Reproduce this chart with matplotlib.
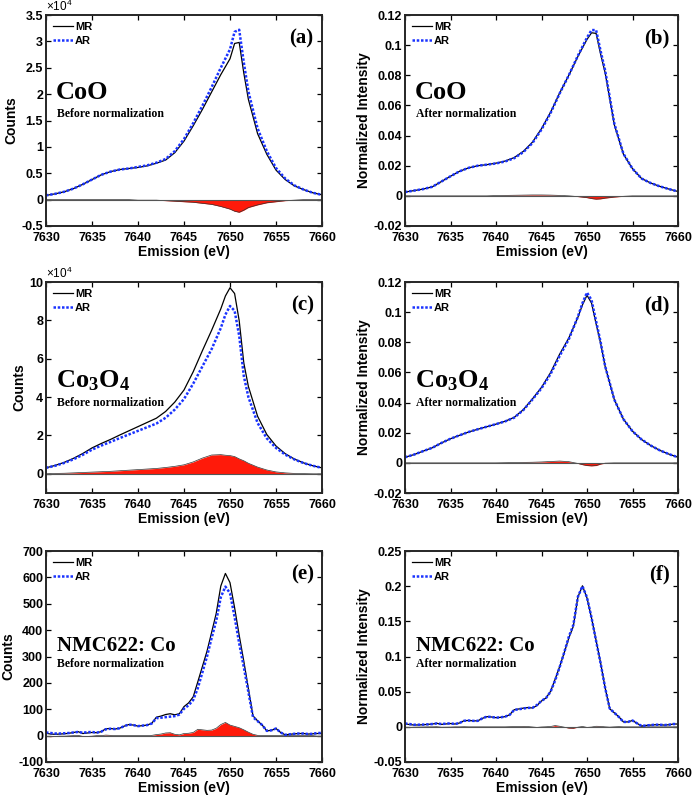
import matplotlib
matplotlib.use('Agg')
import matplotlib.pyplot as plt
import numpy as np
from matplotlib.ticker import FuncFormatter

plt.rcParams['font.family'] = ['Liberation Sans', 'DejaVu Sans']
plt.rcParams['font.weight'] = 'bold'
plt.rcParams['axes.unicode_minus'] = False
plt.rcParams['mathtext.default'] = 'regular'

# ---- data (MR = AR + diff) ----
# CoO
x_a = [7630, 7631, 7632, 7633, 7634, 7635, 7636, 7637, 7638, 7639, 7640, 7641, 7642, 7643, 7644, 7645,
       7646, 7647, 7648, 7649, 7650, 7650.5, 7651, 7651.5, 7652, 7653, 7654, 7655, 7656, 7657, 7658, 7659, 7660]
ar_a = [0.08, 0.11, 0.15, 0.21, 0.29, 0.38, 0.47, 0.53, 0.57, 0.59, 0.62, 0.65, 0.70, 0.77, 0.92, 1.15,
        1.45, 1.78, 2.13, 2.50, 2.85, 3.18, 3.22, 2.60, 2.05, 1.35, 0.92, 0.60, 0.40, 0.27, 0.19, 0.13, 0.09]
diff_a = [0, 0, 0, 0, 0, 0, 0, 0, 0, 0, -0.01, -0.01, -0.01, -0.02, -0.03, -0.04,
          -0.05, -0.07, -0.09, -0.13, -0.18, -0.22, -0.24, -0.20, -0.15, -0.10, -0.06, -0.04, -0.02, -0.01, 0, 0, 0]
ar_b = [0.0025, 0.0035, 0.0045, 0.006, 0.0095, 0.013, 0.0163, 0.0186, 0.020, 0.0207, 0.0215, 0.0228, 0.025, 0.029,
        0.035, 0.044, 0.055, 0.068, 0.080, 0.093, 0.105, 0.110, 0.110, 0.096, 0.083, 0.048, 0.028, 0.018, 0.0115,
        0.0085, 0.0063, 0.0045, 0.0029]
diff_b = [0, 0, 0, 0, 0, 0, 0, 0, 0, 0, 0.0002, 0.0003, 0.0004, 0.0005, 0.0006, 0.0006,
          0.0005, 0.0003, 0, -0.0005, -0.0012, -0.0018, -0.0022, -0.002, -0.0015, -0.0008, -0.0003, 0, 0, 0, 0, 0, 0]

# Co3O4
x_c = [7630, 7631, 7632, 7633, 7634, 7635, 7636, 7637, 7638, 7639, 7640, 7641, 7642, 7643, 7644, 7645,
       7646, 7647, 7648, 7649, 7649.5, 7650, 7650.5, 7651, 7651.5, 7652, 7653, 7654, 7655, 7656, 7657,
       7658, 7659, 7660]
ar_c = [0.31, 0.42, 0.57, 0.76, 0.99, 1.26, 1.47, 1.66, 1.86, 2.05, 2.24, 2.43, 2.62, 2.92, 3.35, 3.9,
        4.7, 5.6, 6.5, 7.6, 8.3, 8.75, 8.5, 7.2, 5.1, 4.0, 2.65, 1.85, 1.35, 1.0, 0.75,
        0.56, 0.42, 0.31]
diff_c = [0, 0.02, 0.03, 0.05, 0.07, 0.09, 0.11, 0.13, 0.16, 0.19, 0.22, 0.25, 0.28, 0.33, 0.39, 0.47,
          0.62, 0.82, 0.98, 1.0, 0.97, 0.95, 0.9, 0.78, 0.68, 0.55, 0.35, 0.2, 0.1, 0.05, 0.02,
          0.01, 0, 0]
ar_d = [0.0037, 0.0055, 0.0078, 0.010, 0.0132, 0.016, 0.0183, 0.0205, 0.0223, 0.024, 0.0257, 0.0275, 0.030,
        0.035, 0.042, 0.0495, 0.059, 0.071, 0.082, 0.097, 0.106, 0.113, 0.108, 0.094, 0.080, 0.064, 0.042,
        0.029, 0.021, 0.0155, 0.0115, 0.0083, 0.0058, 0.0037]
diff_d = [0, 0, 0, 0, 0, 0, 0, 0, 0, 0, 0, 0.0001, 0.0002, 0.0003, 0.0004, 0.0006,
          0.0009, 0.0012, 0.0008, -0.0004, -0.0012, -0.0018, -0.002, -0.0018, -0.0008, -0.0002, 0,
          0, 0, 0, 0, 0, 0, 0]

# NMC622: Co (0.5 eV sampling)
x_e = np.arange(7630, 7660.5, 0.5)
ar_e = [12, 10, 8, 8, 9, 10, 12, 14, 11, 13,
        14, 11, 15, 24, 26, 25, 28, 36, 42, 40,
        36, 38, 40, 46, 66, 68, 70, 72, 74, 80,
        102, 115, 135, 180, 240, 300, 370, 435, 525, 565,
        540, 450, 350, 260, 165, 70, 55, 40, 18, 20,
        27, 12, 3, 5, 7, 8, 8, 6, 7, 10, 10]
diff_e = [-3, -4, -3, -2, -2, -1, 0, 1, -3, -3,
          -2, 0, 0, 2, 1, 0, 0, 0, 0, 0,
          0, 0, 0, 1, 4, 6, 10, 11, 5, 3,
          8, 9, 12, 24, 22, 20, 21, 28, 42, 50,
          40, 35, 30, 22, 13, 5, 1, 0, 0, 0,
          0, 0, 0, 0, 0, 0, 0, 0, 0, -2, -2]
ar_f = [0.0048, 0.004, 0.003, 0.003, 0.0032, 0.0035, 0.004, 0.0048, 0.004, 0.0045,
        0.005, 0.004, 0.0055, 0.0086, 0.009, 0.0085, 0.0085, 0.012, 0.0145, 0.014,
        0.013, 0.0135, 0.0145, 0.017, 0.024, 0.025, 0.026, 0.027, 0.027, 0.031,
        0.037, 0.041, 0.05, 0.066, 0.085, 0.106, 0.128, 0.145, 0.185, 0.2,
        0.184, 0.155, 0.122, 0.09, 0.055, 0.026, 0.02, 0.014, 0.007, 0.007,
        0.009, 0.005, 0.0012, 0.002, 0.0025, 0.003, 0.003, 0.0025, 0.003, 0.004, 0.004]
diff_f = [-0.0006, -0.0008, -0.0004, -0.0003, -0.0002, 0, 0, 0.0002, -0.0005, -0.0004,
          -0.0003, 0, 0, 0.0002, 0, 0, 0, 0, 0, 0,
          0, 0, 0, 0.0002, 0.0003, 0.0004, 0.0006, 0.0004, -0.0002, -0.0008,
          -0.0002, 0.0001, 0.0005, 0.0018, 0.0008, -0.0005, -0.0018, -0.002, -0.0005, 0.0005,
          -0.0008, -0.0003, 0.0008, 0.0006, 0, -0.0004, 0, 0.0003, 0, 0,
          0, 0, 0, 0, 0, 0, 0, 0, 0, 0, 0]

panels = [
    # x, ar, diff, ylim, yticks, ylabel, sample, note, letter, x10
    (x_a, ar_a, diff_a, (-0.5, 3.5), np.arange(-0.5, 3.6, 0.5), 'Counts', 'CoO', 'Before normalization', '(a)', True),
    (x_a, ar_b, diff_b, (-0.02, 0.12), np.arange(-0.02, 0.121, 0.02), 'Normalized Intensity', 'CoO', 'After normalization', '(b)', False),
    (x_c, ar_c, diff_c, (-1, 10), np.arange(0, 10.1, 2), 'Counts', 'Co$_3$O$_4$', 'Before normalization', '(c)', True),
    (x_c, ar_d, diff_d, (-0.02, 0.12), np.arange(-0.02, 0.121, 0.02), 'Normalized Intensity', 'Co$_3$O$_4$', 'After normalization', '(d)', False),
    (x_e, ar_e, diff_e, (-100, 700), np.arange(-100, 701, 100), 'Counts', 'NMC622: Co', 'Before normalization', '(e)', False),
    (x_e, ar_f, diff_f, (-0.05, 0.25), np.arange(-0.05, 0.251, 0.05), 'Normalized Intensity', 'NMC622: Co', 'After normalization', '(f)', False),
]

W, H = 692, 797
fig = plt.figure(figsize=(W / 100, H / 100), dpi=100)

col_left = [46, 405]
col_width = [276, 273]
row_top = [15, 282, 551]
row_h = 211

fmt = FuncFormatter(lambda v, p: '%g' % round(v, 6))

for i, (x, ar, d, ylim, yt, ylab, sample, note, letter, x10) in enumerate(panels):
    r, c = i // 2, i % 2
    ax = fig.add_axes([col_left[c] / W, 1 - (row_top[r] + row_h) / H, col_width[c] / W, row_h / H])
    x = np.asarray(x, dtype=float)
    ar = np.asarray(ar, dtype=float)
    d = np.asarray(d, dtype=float)
    mr = ar + d

    ax.fill_between(x, d, 0, color='#ff1a0a', lw=0)
    ax.plot(x, d, color='#333333', lw=0.5)
    ax.axhline(0, color='#555555', lw=0.8)
    ax.plot(x, mr, color='black', lw=0.9, label='MR')
    ax.plot(x, ar, color='#1a33ff', lw=1.8, ls=(0, (1, 0.7)), label='AR')

    ax.set_xlim(7630, 7660)
    ax.set_ylim(*ylim)
    ax.set_xticks(np.arange(7630, 7661, 5))
    ax.set_yticks(yt)
    ax.yaxis.set_major_formatter(fmt)
    ax.tick_params(direction='in', top=True, right=True, length=3.5, width=0.9, labelsize=9)
    ax.tick_params(axis='x', pad=4)
    ax.tick_params(axis='y', pad=2)
    for lab in ax.get_xticklabels() + ax.get_yticklabels():
        lab.set_fontweight('bold')
    for s in ax.spines.values():
        s.set_linewidth(1.4)
        s.set_color('#262626')
    ax.set_xlabel('Emission (eV)', fontsize=10, fontweight='bold', labelpad=1)
    ax.set_ylabel(ylab, fontsize=10, fontweight='bold', labelpad=2)

    ax.legend(loc='upper left', frameon=False, prop={'weight': 'bold', 'size': 8},
              handlelength=1.8, handletextpad=0.2, borderaxespad=0.3, labelspacing=0.35,
              borderpad=0.3)

    if x10:
        ax.text(0.0, 1.005, '×10$^4$', transform=ax.transAxes, fontsize=8.5, fontweight='normal',
                ha='left', va='bottom')

    ax.text(0.97, 0.865, letter, transform=ax.transAxes, ha='right', va='baseline',
            family='Liberation Serif', fontweight='bold', fontsize=15)
    if r == 2:
        ax.text(0.04, 0.525, sample, transform=ax.transAxes, ha='left', va='baseline',
                family='Liberation Serif', fontweight='bold', fontsize=15)
        ax.text(0.04, 0.448, note, transform=ax.transAxes, ha='left', va='baseline',
                family='Liberation Serif', fontweight='bold', fontsize=8.5)
    elif r == 0:
        ax.text(0.035, 0.60, sample, transform=ax.transAxes, ha='left', va='baseline',
                family='Liberation Serif', fontweight='bold', fontsize=19)
        ax.text(0.04, 0.517, note, transform=ax.transAxes, ha='left', va='baseline',
                family='Liberation Serif', fontweight='bold', fontsize=8.5)
    else:
        ax.text(0.035, 0.50, sample, transform=ax.transAxes, ha='left', va='baseline',
                family='Liberation Serif', fontweight='bold', fontsize=19)
        ax.text(0.04, 0.412, note, transform=ax.transAxes, ha='left', va='baseline',
                family='Liberation Serif', fontweight='bold', fontsize=8.5)

fig.savefig('out.png', dpi=100)
